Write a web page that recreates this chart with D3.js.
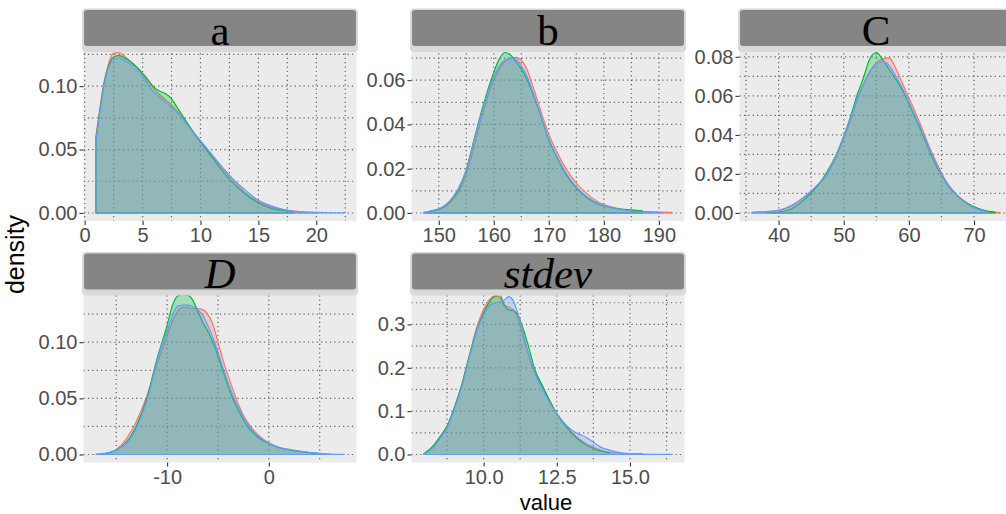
<!DOCTYPE html>
<html>
<head>
<meta charset="utf-8">
<script src="https://cdn.jsdelivr.net/npm/d3@7"></script>
<style>
  body { margin: 0; background: #ffffff; }
  svg { display: block; }
</style>
</head>
<body>
<svg id="chart" width="1006" height="514"></svg>
<script>
// ---- Density estimates per facet: shared x grid, one y array per group (null = outside group range)
const aGrid  = [0.97, 1.3, 1.6, 2, 2.5, 3, 3.5, 4, 4.5, 5, 5.5, 6, 6.5, 7, 7.5, 8, 9, 10, 11, 12, 13, 14, 15, 16, 17, 18, 19, 20, 21, 22.4];
const aRed   = [0.061, 0.082, 0.100, 0.116, 0.126, 0.1265, 0.123, 0.119, 0.115, 0.110, 0.105, 0.098, 0.093, 0.089, 0.085, 0.080, 0.068, 0.056, 0.045, 0.034, 0.024, 0.015, 0.009, 0.005, 0.003, 0.0015, 0.0008, 0.0003, null, null];
const aGreen = [0.058, 0.080, 0.098, 0.114, 0.123, 0.124, 0.122, 0.119, 0.115, 0.110, 0.104, 0.099, 0.096, 0.094, 0.090, 0.083, 0.069, 0.056, 0.044, 0.032, 0.022, 0.014, 0.008, 0.004, 0.0022, 0.001, null, null, null, null];
const aBlue  = [0.057, 0.079, 0.097, 0.113, 0.121, 0.122, 0.120, 0.117, 0.113, 0.108, 0.101, 0.095, 0.091, 0.087, 0.083, 0.079, 0.068, 0.057, 0.046, 0.035, 0.025, 0.017, 0.010, 0.006, 0.003, 0.0015, 0.0007, 0.0004, 0.0002, 0.0001];

const bGrid  = [147.3, 149, 150.5, 152, 153.5, 155, 156.5, 158, 159.5, 161, 162, 163, 164, 165, 166, 167, 168.5, 170, 171.5, 173, 175, 177, 179, 181, 183, 185, 187, 189, 190.5, 192.4];
const bRed   = [0.0001, 0.0009, 0.0020, 0.0045, 0.0090, 0.0175, 0.031, 0.045, 0.057, 0.065, 0.0685, 0.0698, 0.0703, 0.0690, 0.0650, 0.058, 0.0465, 0.0355, 0.0275, 0.0205, 0.0135, 0.0085, 0.0050, 0.0030, 0.0018, 0.0011, 0.0007, 0.0005, 0.0004, 0.0003];
const bGreen = [0.0002, 0.0011, 0.0022, 0.0052, 0.0102, 0.0195, 0.034, 0.048, 0.060, 0.0695, 0.0725, 0.0715, 0.0685, 0.0650, 0.0605, 0.0545, 0.0440, 0.0330, 0.0250, 0.0180, 0.0112, 0.0068, 0.0040, 0.0026, 0.0018, 0.0014, 0.0010, null, null, null];
const bBlue  = [0.0003, 0.0012, 0.0024, 0.0055, 0.0108, 0.0195, 0.0335, 0.047, 0.0585, 0.0665, 0.0690, 0.0700, 0.0695, 0.0665, 0.062, 0.0555, 0.0445, 0.0335, 0.0255, 0.0185, 0.0118, 0.0072, 0.0043, 0.0028, 0.0016, 0.0009, 0.0005, 0.0003, 0.0001, null];

const cGrid  = [35.9, 38, 40, 42, 44, 46, 47.5, 49, 50, 51, 52, 53, 54, 55, 56, 57, 58, 59, 60, 61, 62, 63, 64, 65, 66, 67.5, 69, 70.5, 72, 73.2, 74];
const cRed   = [0.0003, 0.0007, 0.0013, 0.0035, 0.0080, 0.0140, 0.0200, 0.0300, 0.0380, 0.0470, 0.0570, 0.0655, 0.0720, 0.0770, 0.0790, 0.0795, 0.0740, 0.0665, 0.0590, 0.0515, 0.0435, 0.0350, 0.0275, 0.0205, 0.0148, 0.0090, 0.0050, 0.0024, 0.0010, 0.0005, 0.0003];
const cGreen = [null, 0.0002, 0.0005, 0.0022, 0.0070, 0.0140, 0.0215, 0.0310, 0.0395, 0.0490, 0.0600, 0.0690, 0.0790, 0.0822, 0.0785, 0.0735, 0.0685, 0.0630, 0.0560, 0.0485, 0.0410, 0.0330, 0.0255, 0.0195, 0.0140, 0.0085, 0.0048, 0.0025, 0.0010, 0.0004, null];
const cBlue  = [0.0002, 0.0006, 0.0014, 0.0040, 0.0085, 0.0145, 0.0205, 0.0310, 0.0390, 0.0480, 0.0580, 0.0660, 0.0725, 0.0765, 0.0775, 0.0755, 0.0700, 0.0640, 0.0570, 0.0495, 0.0420, 0.0340, 0.0265, 0.0200, 0.0145, 0.0085, 0.0045, 0.0020, 0.0006, null, null];

const dGrid  = [-17, -16, -15, -14, -13, -12, -11, -10.5, -10, -9.5, -9, -8.5, -8, -7.5, -7, -6.5, -6, -5.5, -5, -4.5, -4, -3.5, -3, -2.5, -2, -1, 0, 1, 2, 3, 4, 5, 6, 7.4];
const dRed   = [null, 0.0010, 0.0045, 0.0140, 0.0300, 0.0520, 0.0800, 0.0930, 0.1060, 0.1180, 0.1270, 0.1310, 0.1310, 0.1300, 0.1300, 0.1290, 0.1250, 0.1160, 0.1000, 0.0840, 0.0700, 0.0570, 0.0450, 0.0350, 0.0275, 0.0170, 0.0105, 0.0065, 0.0043, 0.0028, 0.0016, 0.0008, 0.0003, null];
const dGreen = [null, 0.0008, 0.0040, 0.0110, 0.0260, 0.0500, 0.0850, 0.1000, 0.1150, 0.1320, 0.1410, 0.1425, 0.1420, 0.1380, 0.1280, 0.1180, 0.1100, 0.1000, 0.0880, 0.0740, 0.0610, 0.0490, 0.0395, 0.0310, 0.0240, 0.0150, 0.0095, 0.0060, 0.0040, 0.0028, 0.0018, 0.0008, null, null];
const dBlue  = [0.0003, 0.0012, 0.0040, 0.0100, 0.0240, 0.0480, 0.0830, 0.0980, 0.1100, 0.1230, 0.1320, 0.1330, 0.1330, 0.1320, 0.1290, 0.1240, 0.1150, 0.1040, 0.0910, 0.0770, 0.0640, 0.0520, 0.0420, 0.0330, 0.0260, 0.0160, 0.0100, 0.0065, 0.0045, 0.0030, 0.0018, 0.0010, 0.0004, 0.0001];

const sGrid  = [7.96, 8.25, 8.5, 8.75, 9.0, 9.25, 9.5, 9.75, 10.0, 10.2, 10.4, 10.55, 10.7, 10.85, 11.0, 11.15, 11.3, 11.5, 11.75, 12.0, 12.25, 12.5, 12.75, 13.0, 13.25, 13.5, 13.75, 14.0, 14.3, 14.6, 15.0, 15.4, 15.8, 16.44];
const sRed   = [0.001, 0.016, 0.040, 0.066, 0.108, 0.160, 0.224, 0.290, 0.335, 0.358, 0.366, 0.362, 0.346, 0.340, 0.335, 0.318, 0.285, 0.238, 0.188, 0.158, 0.125, 0.094, 0.072, 0.052, 0.037, 0.025, 0.017, 0.010, 0.005, 0.003, 0.0015, 0.0025, null, null];
const sGreen = [0.002, 0.018, 0.040, 0.065, 0.108, 0.160, 0.225, 0.285, 0.327, 0.352, 0.366, 0.369, 0.345, 0.334, 0.332, 0.325, 0.300, 0.258, 0.196, 0.160, 0.125, 0.094, 0.070, 0.050, 0.034, 0.022, 0.014, 0.008, 0.004, null, null, null, null, null];
const sBlue  = [0.001, 0.014, 0.036, 0.062, 0.104, 0.155, 0.220, 0.282, 0.322, 0.343, 0.350, 0.352, 0.356, 0.364, 0.356, 0.330, 0.295, 0.240, 0.188, 0.152, 0.120, 0.095, 0.073, 0.057, 0.047, 0.040, 0.028, 0.017, 0.010, 0.005, 0.002, 0.001, 0.0005, 0.0001];

// ---- Facet labels and axis breaks
const facetLabels = ["a", "b", "C", "D", "stdev"];
const aXTicks = [0, 5, 10, 15, 20],       aYTicks = [0, 0.05, 0.10];
const bXTicks = [150, 160, 170, 180, 190], bYTicks = [0, 0.02, 0.04, 0.06];
const cXTicks = [40, 50, 60, 70],          cYTicks = [0, 0.02, 0.04, 0.06, 0.08];
const dXTicks = [-10, 0],                  dYTicks = [0, 0.05, 0.10];
const sXTicks = [10, 12.5, 15],            sYTicks = [0, 0.1, 0.2, 0.3];

const groupColors = ["#F8766D", "#00BA38", "#619CFF"];

// plain hyphen for negative numbers
const fmtLocale = d3.formatLocale({ decimal: ".", thousands: ",", grouping: [3], currency: ["", ""], minus: "-" });
const fInt = fmtLocale.format("d"), f1 = fmtLocale.format(".1f"), f2 = fmtLocale.format(".2f");

const facets = [
  { label: facetLabels[0], italic: false, grid: aGrid, series: [aRed, aGreen, aBlue], xTicks: aXTicks, yTicks: aYTicks, xFmt: fInt, yFmt: f2, col: 0, row: 0 },
  { label: facetLabels[1], italic: false, grid: bGrid, series: [bRed, bGreen, bBlue], xTicks: bXTicks, yTicks: bYTicks, xFmt: fInt, yFmt: f2, col: 1, row: 0 },
  { label: facetLabels[2], italic: false, grid: cGrid, series: [cRed, cGreen, cBlue], xTicks: cXTicks, yTicks: cYTicks, xFmt: fInt, yFmt: f2, col: 2, row: 0 },
  { label: facetLabels[3], italic: true,  grid: dGrid, series: [dRed, dGreen, dBlue], xTicks: dXTicks, yTicks: dYTicks, xFmt: fInt, yFmt: f2, col: 0, row: 1 },
  { label: facetLabels[4], italic: true,  grid: sGrid, series: [sRed, sGreen, sBlue], xTicks: sXTicks, yTicks: sYTicks, xFmt: f1,   yFmt: f1, col: 1, row: 1 }
];

// ---- Layout
const colX0 = [83.5, 411.5, 739.5];
const panelW = 273;
const rowRange = [[44.5, 221], [286.5, 462.5]];   // [top, bottom] of each row's panels
const stripTop = [10, 253.5];
const stripH = 36;

const tickFont = "'Liberation Sans', Arial, sans-serif";
const svg = d3.select("#chart");

// minor breaks sit halfway between majors, extended one step past each end
function minorBreaks(majors, domain) {
  const step = majors.length > 1 ? majors[1] - majors[0] : 1;
  const out = [majors[0] - step / 2];
  majors.forEach(m => out.push(m + step / 2));
  return out.filter(v => v >= domain[0] && v <= domain[1]);
}

facets.forEach((f, fi) => {
  const x0 = colX0[f.col], x1 = x0 + panelW;
  const [yTop, yBot] = rowRange[f.row];

  const ext = d3.extent(f.grid);
  const xPad = 0.05 * (ext[1] - ext[0]);
  const x = d3.scaleLinear().domain([ext[0] - xPad, ext[1] + xPad]).range([x0, x1]);

  const yMax = d3.max(f.series.flat().filter(v => v != null));
  const y = d3.scaleLinear().domain([-0.05 * yMax, 1.05 * yMax]).range([yBot, yTop]);

  const g = svg.append("g");
  const clipId = "clip" + fi;
  g.append("clipPath").attr("id", clipId)
    .append("rect").attr("x", x0).attr("y", yTop).attr("width", panelW).attr("height", yBot - yTop);

  // panel background
  g.append("rect").attr("x", x0).attr("y", yTop).attr("width", panelW).attr("height", yBot - yTop)
    .attr("fill", "#EBEBEB");

  // grid lines (minor and major), dotted
  const gridG = g.append("g").attr("clip-path", `url(#${clipId})`)
    .attr("stroke", "#4a4a4a").attr("stroke-width", 1.2).attr("stroke-dasharray", "1.2 3.2").attr("opacity", 0.85);
  const xMin = minorBreaks(f.xTicks, x.domain()), yMin = minorBreaks(f.yTicks, y.domain());
  const xAll = xMin.concat(f.xTicks.filter(v => v >= x.domain()[0] && v <= x.domain()[1]));
  const yAll = yMin.concat(f.yTicks);
  gridG.selectAll("line.gx").data(xAll).join("line").attr("class", "gx")
    .attr("x1", d => x(d)).attr("x2", d => x(d)).attr("y1", yTop).attr("y2", yBot);
  gridG.selectAll("line.gy").data(yAll).join("line").attr("class", "gy")
    .attr("x1", x0).attr("x2", x1).attr("y1", d => y(d)).attr("y2", d => y(d));

  // density areas, one per group, outlined all round
  const area = d3.area()
    .x(d => x(d.x)).y0(y(0)).y1(d => y(d.y))
    .curve(d3.curveMonotoneX);
  const densG = g.append("g").attr("clip-path", `url(#${clipId})`);
  f.series.forEach((vals, si) => {
    const pts = f.grid.map((gx, i) => ({ x: gx, y: vals[i] })).filter(d => d.y != null);
    densG.append("path").datum(pts)
      .attr("d", d => area(d) + "Z")
      .attr("fill", groupColors[si]).attr("fill-opacity", 0.3)
      .attr("stroke", groupColors[si]).attr("stroke-width", 1.2)
      .attr("stroke-linejoin", "round");
  });

  // axes
  const yAxis = d3.axisLeft(y).tickValues(f.yTicks).tickFormat(f.yFmt).tickSize(4).tickPadding(2);
  const yAx = g.append("g").attr("transform", `translate(${x0},0)`).call(yAxis);
  const xAxis = d3.axisBottom(x).tickValues(f.xTicks).tickFormat(f.xFmt).tickSize(4).tickPadding(3);
  const xAx = g.append("g").attr("transform", `translate(0,${yBot})`).call(xAxis);
  [yAx, xAx].forEach(ax => {
    ax.select(".domain").remove();
    ax.selectAll(".tick line").attr("stroke", "#333333").attr("stroke-width", 1.1);
    ax.selectAll(".tick text").attr("fill", "#4D4D4D")
      .style("font-family", tickFont).style("font-size", "20px");
  });

  // facet strip
  const sTop = stripTop[f.row];
  g.append("rect").attr("x", x0 - 1.5).attr("y", sTop - 1.5).attr("width", panelW + 3).attr("height", stripH + 7.5)
    .attr("rx", 4).attr("fill", "#D9D9D9");
  g.append("rect").attr("x", x0 + 0.5).attr("y", sTop).attr("width", panelW - 1).attr("height", stripH)
    .attr("rx", 3).attr("fill", "#858585");
  g.append("text")
    .attr("x", x0 + panelW / 2).attr("y", sTop + stripH - 1.5)
    .attr("text-anchor", "middle")
    .style("font-family", "'Liberation Serif', 'Times New Roman', serif")
    .style("font-size", "43px")
    .style("font-style", f.italic ? "italic" : "normal")
    .attr("fill", "#000")
    .text(f.label);
});

// axis titles
svg.append("text")
  .attr("transform", `translate(24,${(rowRange[0][0] + rowRange[1][1]) / 2 + 1}) rotate(-90)`)
  .attr("text-anchor", "middle")
  .style("font-family", tickFont).style("font-size", "25px").attr("fill", "#000")
  .text("density");
svg.append("text")
  .attr("x", (colX0[0] + colX0[2] + panelW) / 2 - 2).attr("y", 509.5)
  .attr("text-anchor", "middle")
  .style("font-family", tickFont).style("font-size", "22px").attr("fill", "#000")
  .text("value");
</script>
</body>
</html>
